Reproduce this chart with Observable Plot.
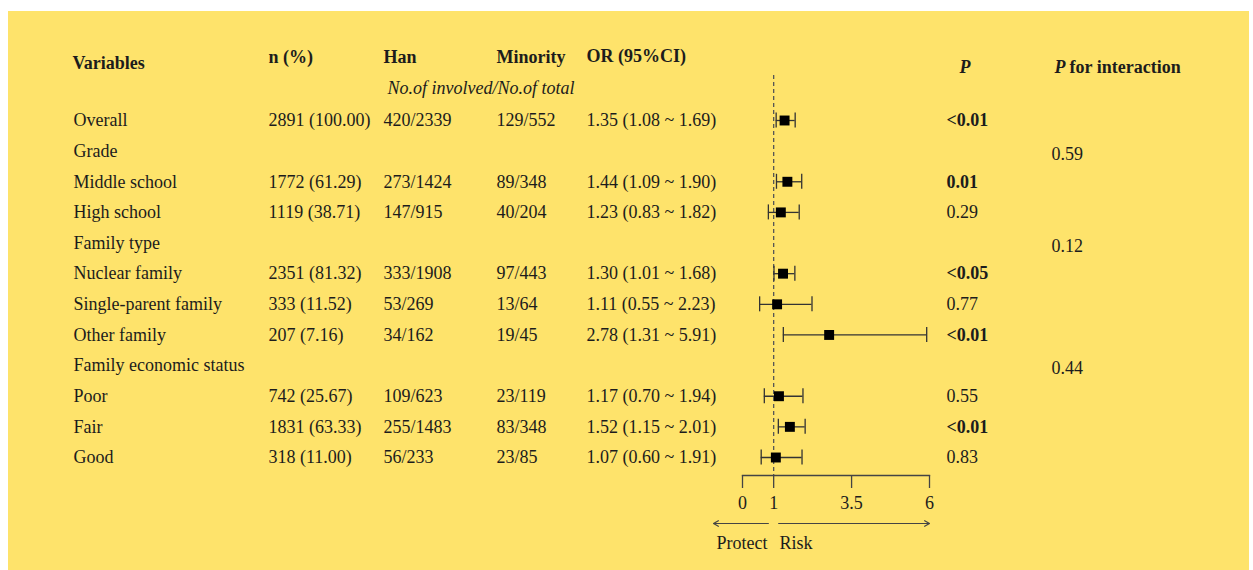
<!DOCTYPE html>
<html><head><meta charset="utf-8">
<script src="https://cdn.jsdelivr.net/npm/d3@7"></script>
<script src="https://cdn.jsdelivr.net/npm/@observablehq/plot@0.6"></script>
<style>
html,body{margin:0;padding:0;background:#fff;}
#wrap{position:relative;width:1253px;height:570px;overflow:hidden;}
#bg{position:absolute;left:8px;top:11px;width:1241px;height:559px;background:#fee36b;}
#chart{position:absolute;left:0;top:0;}
</style></head><body>
<div id="wrap"><div id="bg"></div><div id="chart"></div></div>
<script>
// ---- data ----
const variables = ["Overall","Grade","Middle school","High school","Family type","Nuclear family","Single-parent family","Other family","Family economic status","Poor","Fair","Good"];
const nPct = ["2891 (100.00)","","1772 (61.29)","1119 (38.71)","","2351 (81.32)","333 (11.52)","207 (7.16)","","742 (25.67)","1831 (63.33)","318 (11.00)"];
const han = ["420/2339","","273/1424","147/915","","333/1908","53/269","34/162","","109/623","255/1483","56/233"];
const minority = ["129/552","","89/348","40/204","","97/443","13/64","19/45","","23/119","83/348","23/85"];
const oddsRatio = [1.35,null,1.44,1.23,null,1.30,1.11,2.78,null,1.17,1.52,1.07];
const lower = [1.08,null,1.09,0.83,null,1.01,0.55,1.31,null,0.70,1.15,0.60];
const upper = [1.69,null,1.90,1.82,null,1.68,2.23,5.91,null,1.94,2.01,1.91];
const pValue = ["<0.01","","0.01","0.29","","<0.05","0.77","<0.01","","0.55","<0.01","0.83"];
const pInteraction = ["","0.59","","","0.12","","","","0.44","","",""];
const axisTicks = [0, 1, 3.5, 6];

// ---- layout ----
const W = 1253, H = 570, ML = 742, MR = W - 929, MB = H - 475;
const Y0 = 120, Y1 = 457, STEP = (Y1 - Y0) / 11;
const font = "'Liberation Serif','Times New Roman',Times,serif";
const ink = "#1c1c1c";
const FS = 18;

const rows = variables.map((v, i) => ({
  i, v, n: nPct[i], han: han[i], mino: minority[i],
  or: oddsRatio[i], lo: lower[i], hi: upper[i], p: pValue[i], pint: pInteraction[i],
  ci: oddsRatio[i] == null ? "" : `${oddsRatio[i].toFixed(2)} (${lower[i].toFixed(2)} ~ ${upper[i].toFixed(2)})`
}));
const est = rows.filter(d => d.or != null);
const isSig = p => p.startsWith("<") || parseFloat(p) < 0.05;

function label(txt, px, py, opts = {}) {
  return Plot.text([txt], {text: d => d, frameAnchor: "top-left", lineAnchor: "middle", dx: px - ML, dy: py,
    textAnchor: "start", fontSize: FS, fill: ink, ...opts});
}
function column(data, field, px, opts = {}) {
  return Plot.text(data.filter(d => d[field]), {y: "i", text: field, frameAnchor: "left", lineAnchor: "middle",
    dx: px - ML, textAnchor: "start", fontSize: FS, fill: ink, ...opts});
}
const yAt = py => (py - Y0) / STEP;
const cap = 7.5 / STEP;

const chart = Plot.plot({
  width: W, height: H,
  marginLeft: ML, marginRight: MR, marginTop: 0, marginBottom: MB,
  x: {domain: [0, 6], label: null},
  y: {type: "linear", domain: [0, 11], range: [Y0, Y1], axis: null},
  style: {background: "transparent", fontFamily: font, fontSize: FS + "px", color: ink},
  marks: [
    // headers
    label("Variables", 72, 63, {fontWeight: "bold"}),
    label("n (%)", 268, 57, {fontWeight: "bold"}),
    label("Han", 383, 57, {fontWeight: "bold"}),
    label("Minority", 496, 57, {fontWeight: "bold"}),
    label("OR (95%CI)", 586, 56, {fontWeight: "bold"}),
    label("No.of involved/No.of total", 387, 88, {fontStyle: "italic"}),
    label("P", 959, 67, {fontWeight: "bold", fontStyle: "italic"}),
    label("P", 1054, 67, {fontWeight: "bold", fontStyle: "italic"}),
    label("for interaction", 1069, 67, {fontWeight: "bold"}),
    // table columns
    column(rows, "v", 73),
    column(rows, "n", 268),
    column(rows, "han", 383),
    column(rows, "mino", 496),
    column(rows, "ci", 586),
    column(rows.filter(d => d.p && isSig(d.p)), "p", 946, {fontWeight: "bold"}),
    column(rows.filter(d => d.p && !isSig(d.p)), "p", 946),
    column(rows, "pint", 1051, {dy: 3}),
    // forest plot
    Plot.ruleX([1], {stroke: "#555", strokeWidth: 1.3, strokeDasharray: "4,3", insetTop: 75}),
    Plot.ruleY(est, {y: "i", x1: "lo", x2: "hi", stroke: "#333", strokeWidth: 1.3}),
    Plot.ruleX(est, {x: "lo", y1: d => d.i - cap, y2: d => d.i + cap, stroke: "#333", strokeWidth: 1.3}),
    Plot.ruleX(est, {x: "hi", y1: d => d.i - cap, y2: d => d.i + cap, stroke: "#333", strokeWidth: 1.3}),
    Plot.dot(est, {x: "or", y: "i", symbol: "square", r: 5.6, fill: "#000", stroke: "none"}),
    // axis
    Plot.frame({anchor: "bottom", stroke: "#444", strokeWidth: 1.3}),
    Plot.axisX({ticks: axisTicks, tickSize: 13, tickPadding: 8, fontSize: FS, stroke: "#444",
      strokeWidth: 1.3, fill: ink, tickFormat: d => String(d), label: null}),
    Plot.arrow([{a: 0.83, b: -0.93}, {a: 1.16, b: 6}], {x1: "a", x2: "b", y1: yAt(523), y2: yAt(523),
      stroke: "#444", strokeWidth: 1.2, headLength: 7}),
    label("Protect", 767, 543, {textAnchor: "end"}),
    label("Risk", 779, 543)
  ]
});
document.getElementById("chart").appendChild(chart);
</script>
</body></html>
